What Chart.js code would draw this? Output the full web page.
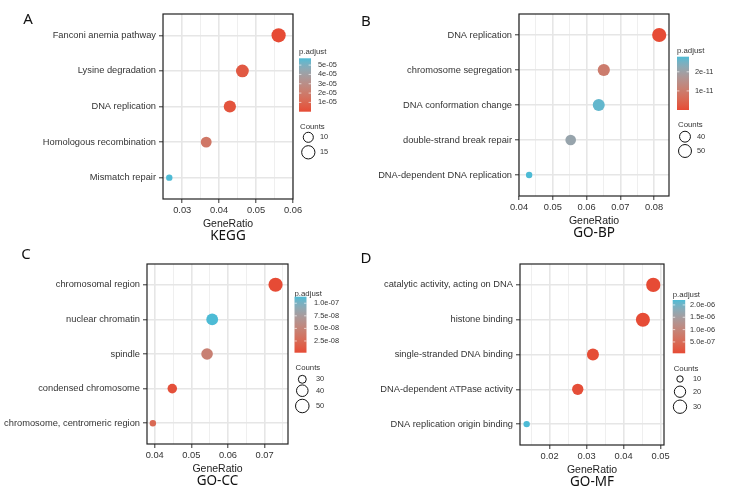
<!DOCTYPE html>
<html>
<head>
<meta charset="utf-8">
<script src="https://cdn.jsdelivr.net/npm/chart.js@4.4.1/dist/chart.umd.min.js"></script>
<style>
  body { margin: 0; background: #fff; }
  #wrap { position: relative; width: 752px; height: 501px; overflow: hidden; background: #fff; }
  #wrap canvas { position: absolute; }
  .tag { position: absolute; font: 15px 'Noto Sans', sans-serif; color: #111; transform: translate(-50%, -50%); line-height: 1; }
</style>
</head>
<body>
<div id="wrap">
  <canvas id="kegg" width="376" height="250" style="left:0;top:0"></canvas>
  <canvas id="gobp" width="376" height="250" style="left:376px;top:0"></canvas>
  <canvas id="gocc" width="376" height="251" style="left:0;top:250px"></canvas>
  <canvas id="gomf" width="376" height="251" style="left:376px;top:250px"></canvas>
  <div class="tag" style="left:28px;top:18px">A</div>
  <div class="tag" style="left:366px;top:20px">B</div>
  <div class="tag" style="left:26px;top:253px">C</div>
  <div class="tag" style="left:366px;top:257px">D</div>
</div>
<script>
// ---- data ----

// A: KEGG
const keggTerms = ['Fanconi anemia pathway', 'Lysine degradation', 'DNA replication', 'Homologous recombination', 'Mismatch repair'];
const keggRatio = [0.0561, 0.0463, 0.0429, 0.0365, 0.0265];
const keggCount = [17, 14, 13, 11, 8];
const keggPadj = [5e-08, 5e-06, 3e-06, 1.8e-05, 5.73e-05];
const keggXTicks = [0.03, 0.04, 0.05, 0.06];
const keggXLabels = ['0.03', '0.04', '0.05', '0.06'];
const keggPadjTicks = [1e-05, 2e-05, 3e-05, 4e-05, 5e-05];
const keggPadjLabels = ['1e-05', '2e-05', '3e-05', '4e-05', '5e-05'];
const keggCountTicks = [10, 15];

// B: GO-BP
const bpTerms = ['DNA replication', 'chromosome segregation', 'DNA conformation change', 'double-strand break repair', 'DNA-dependent DNA replication'];
const bpRatio = [0.0815, 0.0651, 0.0636, 0.0553, 0.0430];
const bpCount = [58, 46, 45, 39, 31];
const bpPadj = [1e-14, 1.0e-11, 2.65e-11, 2.1e-11, 2.79e-11];
const bpXTicks = [0.04, 0.05, 0.06, 0.07, 0.08];
const bpXLabels = ['0.04', '0.05', '0.06', '0.07', '0.08'];
const bpPadjTicks = [1e-11, 2e-11];
const bpPadjLabels = ['1e-11', '2e-11'];
const bpCountTicks = [40, 50];

// C: GO-CC
const ccTerms = ['chromosomal region', 'nuclear chromatin', 'spindle', 'condensed chromosome', 'chromosome, centromeric region'];
const ccRatio = [0.0730, 0.0557, 0.0543, 0.0448, 0.0395];
const ccCount = [54, 41, 40, 33, 29];
const ccPadj = [1.7e-09, 1.13e-07, 4.6e-08, 5e-09, 2.4e-08];
const ccXTicks = [0.04, 0.05, 0.06, 0.07];
const ccXLabels = ['0.04', '0.05', '0.06', '0.07'];
const ccPadjTicks = [2.5e-08, 5.0e-08, 7.5e-08, 1.0e-07];
const ccPadjLabels = ['2.5e-08', '5.0e-08', '7.5e-08', '1.0e-07'];
const ccCountTicks = [30, 40, 50];

// D: GO-MF
const mfTerms = ['catalytic activity, acting on DNA', 'histone binding', 'single-stranded DNA binding', 'DNA-dependent ATPase activity', 'DNA replication origin binding'];
const mfRatio = [0.0480, 0.0452, 0.0317, 0.0276, 0.0138];
const mfCount = [35, 34, 23, 20, 10];
const mfPadj = [4e-08, 5e-08, 6e-08, 8e-08, 2.2e-06];
const mfXTicks = [0.02, 0.03, 0.04, 0.05];
const mfXLabels = ['0.02', '0.03', '0.04', '0.05'];
const mfPadjTicks = [5.0e-07, 1.0e-06, 1.5e-06, 2.0e-06];
const mfPadjLabels = ['5.0e-07', '1.0e-06', '1.5e-06', '2.0e-06'];
const mfCountTicks = [10, 20, 30];

// ---- look ----
const LOW = '#E64B35';
const HIGH = '#4DBBD5';
const R_MIN = 3.2;
const R_MAX = 7.1;
const TEXT = '#333333';
const GRID_MAJOR = '#E6E6E6';
const GRID_MINOR = '#EFEFEF';
const SANS = '"Liberation Sans", Arial, sans-serif';

Chart.defaults.font.family = SANS;

// ggplot-like gradient: interpolate in CIELAB
function hexToLab(hex) {
    const n = parseInt(hex.slice(1), 16);
    const rgb = [(n >> 16) & 255, (n >> 8) & 255, n & 255].map(c => {
        c /= 255;
        return c <= 0.04045 ? c / 12.92 : Math.pow((c + 0.055) / 1.055, 2.4);
    });
    const X = (0.4124 * rgb[0] + 0.3576 * rgb[1] + 0.1805 * rgb[2]) / 0.95047;
    const Y = 0.2126 * rgb[0] + 0.7152 * rgb[1] + 0.0722 * rgb[2];
    const Z = (0.0193 * rgb[0] + 0.1192 * rgb[1] + 0.9505 * rgb[2]) / 1.08883;
    const f = t => t > 0.008856 ? Math.cbrt(t) : 7.787 * t + 16 / 116;
    return [116 * f(Y) - 16, 500 * (f(X) - f(Y)), 200 * (f(Y) - f(Z))];
}

function labToCss(lab) {
    const fy = (lab[0] + 16) / 116, fx = fy + lab[1] / 500, fz = fy - lab[2] / 200;
    const inv = t => t * t * t > 0.008856 ? t * t * t : (t - 16 / 116) / 7.787;
    const X = inv(fx) * 0.95047, Y = inv(fy), Z = inv(fz) * 1.08883;
    const lin = [
        3.2406 * X - 1.5372 * Y - 0.4986 * Z,
        -0.9689 * X + 1.8758 * Y + 0.0415 * Z,
        0.0557 * X - 0.2040 * Y + 1.0570 * Z
    ];
    const out = lin.map(c => {
        c = c <= 0.0031308 ? 12.92 * c : 1.055 * Math.pow(c, 1 / 2.4) - 0.055;
        return Math.round(Math.min(1, Math.max(0, c)) * 255);
    });
    return `rgb(${out[0]},${out[1]},${out[2]})`;
}

const labLow = hexToLab(LOW);
const labHigh = hexToLab(HIGH);

function gradientColor(t) {
    t = Math.min(1, Math.max(0, t));
    return labToCss(labLow.map((v, i) => v + (labHigh[i] - v) * t));
}

// draws panel border, axis title, panel title and both legends
const panelDecor = {
    id: 'panelDecor',
    afterDraw(chart, args, opts) {
        const ctx = chart.ctx;
        const a = chart.chartArea;
        const lg = opts.legend;
        ctx.save();

        ctx.strokeStyle = '#222';
        ctx.lineWidth = 1.2;
        ctx.strokeRect(a.left, a.top, a.right - a.left, a.bottom - a.top);

        const cx = (a.left + a.right) / 2;
        ctx.fillStyle = '#222';
        ctx.textAlign = 'center';
        ctx.textBaseline = 'middle';
        ctx.font = '10.5px ' + SANS;
        ctx.fillText('GeneRatio', cx, a.bottom + 25);
        ctx.font = '13.5px "Noto Sans", sans-serif';
        ctx.fillStyle = '#111';
        ctx.fillText(opts.title, cx, a.bottom + 37.5);

        // p.adjust colour bar
        ctx.textAlign = 'left';
        ctx.fillStyle = TEXT;
        ctx.font = '7.8px ' + SANS;
        ctx.fillText('p.adjust', lg.x, lg.titleY);

        const bw = lg.barW;
        const grad = ctx.createLinearGradient(0, lg.barBottom, 0, lg.barTop);
        for (let k = 0; k <= 20; k++) grad.addColorStop(k / 20, gradientColor(k / 20));
        ctx.fillStyle = grad;
        ctx.fillRect(lg.x, lg.barTop, bw, lg.barBottom - lg.barTop);

        const pmin = opts.padjRange[0], pmax = opts.padjRange[1];
        ctx.font = '7.4px ' + SANS;
        opts.padjTicks.forEach((v, i) => {
            const y = lg.barBottom - (v - pmin) / (pmax - pmin) * (lg.barBottom - lg.barTop);
            ctx.strokeStyle = 'rgba(255,255,255,0.9)';
            ctx.lineWidth = 0.7;
            ctx.beginPath();
            ctx.moveTo(lg.x, y); ctx.lineTo(lg.x + bw / 5, y);
            ctx.moveTo(lg.x + bw - bw / 5, y); ctx.lineTo(lg.x + bw, y);
            ctx.stroke();
            ctx.fillStyle = TEXT;
            ctx.fillText(opts.padjLabels[i], lg.labelX, y);
        });

        // Counts size legend
        ctx.font = '7.8px ' + SANS;
        ctx.fillText('Counts', lg.x + 1, lg.countsY);
        ctx.font = '7.4px ' + SANS;
        opts.countTicks.forEach((v, i) => {
            const y = lg.circleYs[i];
            ctx.beginPath();
            ctx.arc(lg.circleX, y, opts.sizeOf(v), 0, Math.PI * 2);
            ctx.strokeStyle = '#111';
            ctx.lineWidth = 1;
            ctx.stroke();
            ctx.fillStyle = TEXT;
            ctx.fillText(String(v), lg.countLabelX, y);
        });
        ctx.restore();
    }
};

function makePanel(p) {
    const canvas = document.getElementById(p.id);
    const W = canvas.width, H = canvas.height;
    const n = p.terms.length;
    const cmin = Math.min(...p.count), cmax = Math.max(...p.count);
    const sizeOf = c => R_MIN + Math.sqrt(Math.max(0, (c - cmin) / (cmax - cmin))) * (R_MAX - R_MIN);
    const pmin = Math.min(...p.padj), pmax = Math.max(...p.padj);

    // major breaks plus ggplot-style minor breaks halfway between
    const step = p.xTicks[1] - p.xTicks[0];
    const xTicks = [];
    p.xTicks.forEach((v, i) => {
        xTicks.push({ value: v, lbl: p.xLabels[i] });
        [v - step / 2, v + step / 2].forEach(m => {
            if (m > p.xMin && m < p.xMax && !xTicks.some(t => Math.abs(t.value - m) < 1e-9)) {
                xTicks.push({ value: m, isMinor: true });
            }
        });
    });
    xTicks.sort((a, b) => a.value - b.value);

    const gridColor = c => (c.tick && c.tick.isMinor) ? GRID_MINOR : GRID_MAJOR;
    const gridWidth = c => (c.tick && c.tick.isMinor) ? 1 : 1.6;
    const tickColor = c => (c.tick && c.tick.isMinor) ? 'rgba(0,0,0,0)' : '#333';
    const tickFont = { size: 9.3, family: SANS };

    return new Chart(canvas, {
        type: 'bubble',
        data: {
            datasets: [{
                data: p.terms.map((t, i) => ({ x: p.ratio[i], y: n - i, r: sizeOf(p.count[i]) })),
                backgroundColor: p.padj.map(v => gradientColor((v - pmin) / (pmax - pmin))),
                borderWidth: 0,
                hoverBorderWidth: 0
            }]
        },
        options: {
            responsive: false,
            animation: false,
            events: [],
            layout: { padding: { top: p.area.top, right: W - p.area.right, left: 0, bottom: 0 } },
            plugins: {
                legend: { display: false },
                tooltip: { enabled: false },
                panelDecor: {
                    title: p.title,
                    legend: p.legend,
                    padjRange: [pmin, pmax],
                    padjTicks: p.padjTicks,
                    padjLabels: p.padjLabels,
                    countTicks: p.countTicks,
                    sizeOf: sizeOf
                }
            },
            scales: {
                x: {
                    type: 'linear',
                    bounds: 'data',
                    min: p.xMin,
                    max: p.xMax,
                    afterBuildTicks: s => { s.ticks = xTicks.map(t => Object.assign({}, t)); },
                    afterFit: s => { s.height = H - p.area.bottom; },
                    ticks: {
                        autoSkip: false,
                        maxRotation: 0,
                        padding: 2,
                        color: TEXT,
                        font: tickFont,
                        callback: (v, i, ticks) => ticks[i].lbl || ''
                    },
                    grid: { color: gridColor, lineWidth: gridWidth, tickColor: tickColor, tickLength: 4, tickWidth: 1 },
                    border: { display: false }
                },
                y: {
                    type: 'linear',
                    bounds: 'data',
                    min: 0.4,
                    max: n + 0.6,
                    afterBuildTicks: s => { s.ticks = p.terms.map((t, i) => ({ value: n - i })); },
                    afterFit: s => { s.width = p.area.left; },
                    ticks: {
                        autoSkip: false,
                        padding: 3,
                        color: TEXT,
                        font: tickFont,
                        callback: v => p.terms[n - v]
                    },
                    grid: { color: GRID_MAJOR, lineWidth: 1.6, tickColor: '#333', tickLength: 4, tickWidth: 1 },
                    border: { display: false }
                }
            }
        },
        plugins: [panelDecor]
    });
}

makePanel({
    id: 'kegg', title: 'KEGG',
    terms: keggTerms, ratio: keggRatio, count: keggCount, padj: keggPadj,
    xTicks: keggXTicks, xLabels: keggXLabels, xMin: 0.0248, xMax: 0.0600,
    padjTicks: keggPadjTicks, padjLabels: keggPadjLabels, countTicks: keggCountTicks,
    area: { left: 163, right: 293, top: 14, bottom: 199 },
    legend: { x: 299, titleY: 51.5, barW: 12, barTop: 58.3, barBottom: 111.7, labelX: 318,
              countsY: 127, circleX: 308.3, circleYs: [137.3, 152.3], countLabelX: 320 }
});

makePanel({
    id: 'gobp', title: 'GO-BP',
    terms: bpTerms, ratio: bpRatio, count: bpCount, padj: bpPadj,
    xTicks: bpXTicks, xLabels: bpXLabels, xMin: 0.0400, xMax: 0.0844,
    padjTicks: bpPadjTicks, padjLabels: bpPadjLabels, countTicks: bpCountTicks,
    area: { left: 143, right: 293, top: 14, bottom: 196 },
    legend: { x: 301, titleY: 51, barW: 12, barTop: 56.7, barBottom: 110, labelX: 319,
              countsY: 125, circleX: 309, circleYs: [136.7, 151], countLabelX: 321 }
});

makePanel({
    id: 'gocc', title: 'GO-CC',
    terms: ccTerms, ratio: ccRatio, count: ccCount, padj: ccPadj,
    xTicks: ccXTicks, xLabels: ccXLabels, xMin: 0.0379, xMax: 0.0764,
    padjTicks: ccPadjTicks, padjLabels: ccPadjLabels, countTicks: ccCountTicks,
    area: { left: 147, right: 288, top: 14, bottom: 194 },
    legend: { x: 294.5, titleY: 44, barW: 12, barTop: 46.7, barBottom: 102.7, labelX: 314,
              countsY: 118.3, circleX: 302.3, circleYs: [129.3, 140.7, 156], countLabelX: 316 }
});

makePanel({
    id: 'gomf', title: 'GO-MF',
    terms: mfTerms, ratio: mfRatio, count: mfCount, padj: mfPadj,
    xTicks: mfXTicks, xLabels: mfXLabels, xMin: 0.0120, xMax: 0.0509,
    padjTicks: mfPadjTicks, padjLabels: mfPadjLabels, countTicks: mfCountTicks,
    area: { left: 144, right: 288, top: 14, bottom: 195 },
    legend: { x: 296.7, titleY: 45, barW: 12.5, barTop: 50, barBottom: 103.3, labelX: 314,
              countsY: 119.3, circleX: 304, circleYs: [129, 141.7, 156.7], countLabelX: 317 }
});
</script>
</body>
</html>
